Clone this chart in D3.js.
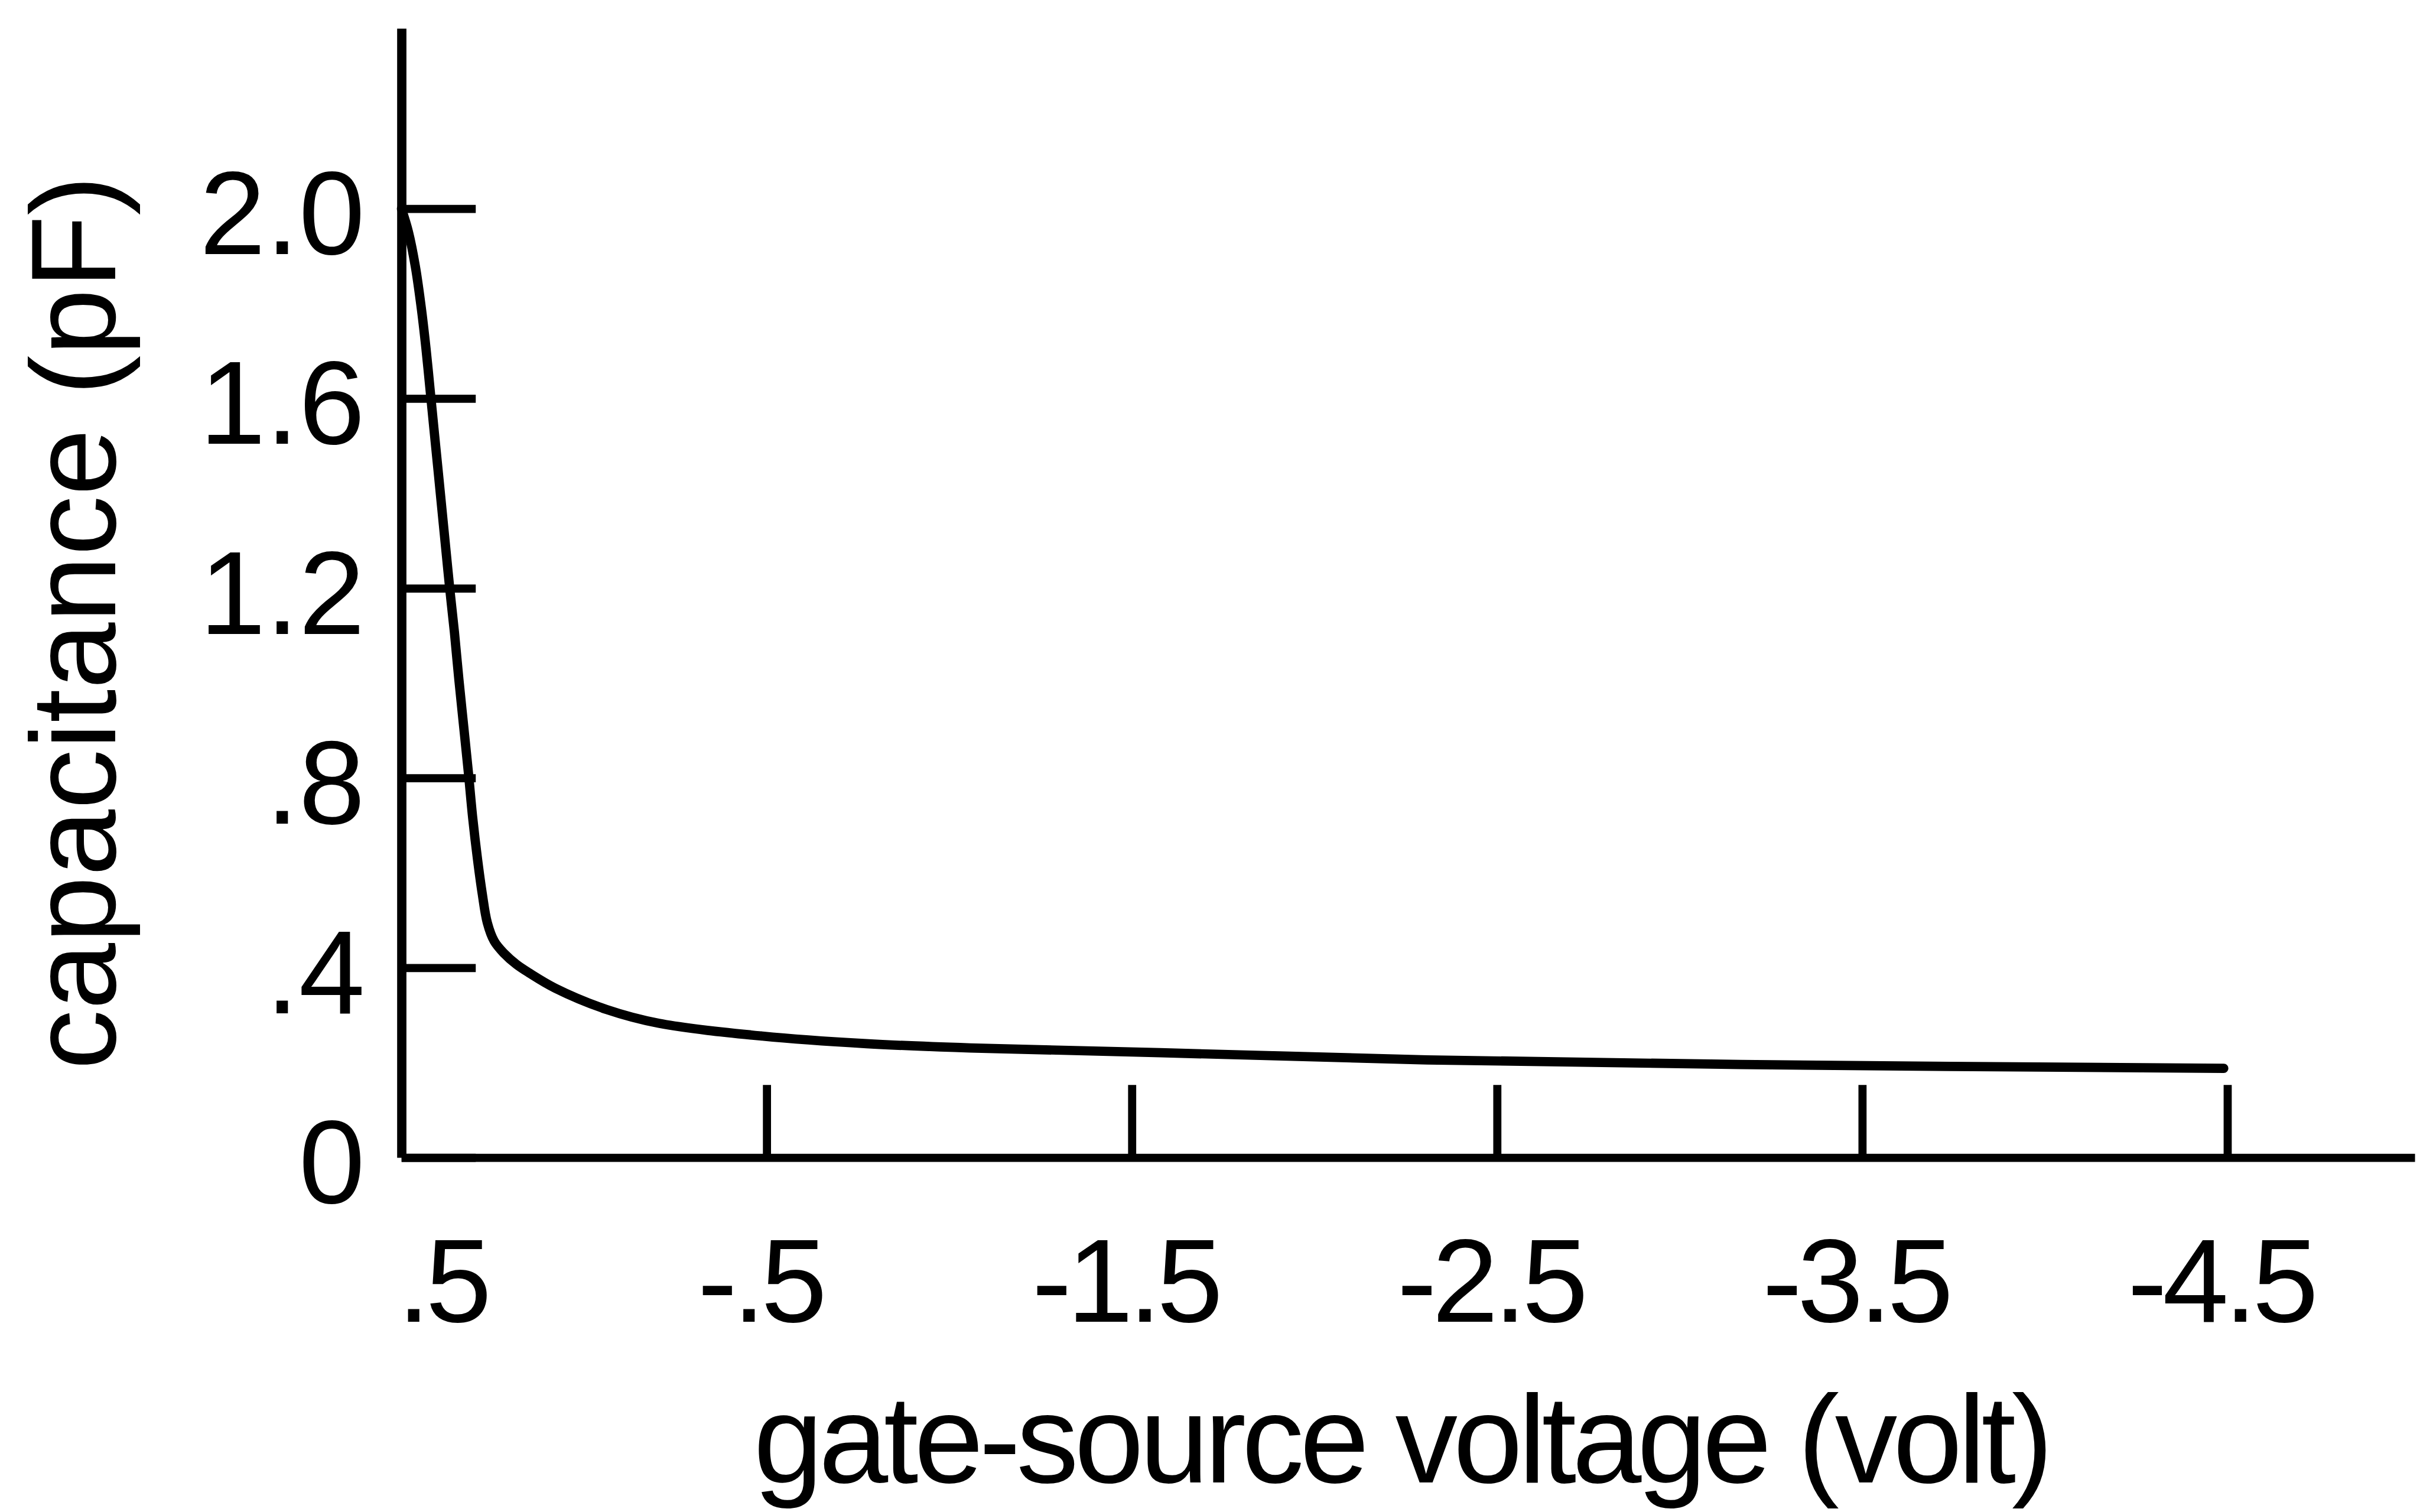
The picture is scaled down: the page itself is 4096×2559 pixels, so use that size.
<!DOCTYPE html>
<html>
<head>
<meta charset="utf-8">
<script src="https://cdn.jsdelivr.net/npm/d3@7"></script>
<style>
  html, body { margin: 0; padding: 0; background: #fff; }
  svg { display: block; }
  text { font-family: "Liberation Sans", Arial, Helvetica, sans-serif; fill: #000; }
</style>
</head>
<body>
<script>
// ---- data ----
const voltage = [0.5, 0.481, 0.462, 0.446, 0.433, 0.422, 0.411, 0.4, 0.389, 0.378, 0.367, 0.355,
                 0.343, 0.33, 0.317, 0.305, 0.292, 0.279, 0.265, 0.246, 0.22, 0.185, 0.15, 0.079,
                 -0.062, -0.205, -0.488, -0.773, -1.057, -1.578, -2.293, -3.167, -4.49];
const capacitance = [2.0, 1.951, 1.878, 1.792, 1.706, 1.621, 1.535, 1.45, 1.364, 1.278, 1.193, 1.107,
                     1.009, 0.911, 0.813, 0.716, 0.63, 0.557, 0.495, 0.456, 0.431, 0.407, 0.389, 0.357,
                     0.312, 0.283, 0.256, 0.24, 0.231, 0.221, 0.206, 0.196, 0.188];
const xTickValues = [0.5, -0.5, -1.5, -2.5, -3.5, -4.5];
const xTickLabels = [".5", "-.5", "-1.5", "-2.5", "-3.5", "-4.5"];
const yTickValues = [0, 0.4, 0.8, 1.2, 1.6, 2.0];
const yTickLabels = ["0", ".4", ".8", "1.2", "1.6", "2.0"];
const xTitle = "gate-source voltage (volt)";
const yTitle = "capacitance (pF)";

// ---- layout (reference pixel units, drawn at 0.982) ----
const S = 0.982;
const W = 4096, H = 2559;

const svg = d3.select("body").append("svg")
  .attr("width", W).attr("height", H)
  .attr("viewBox", `0 0 ${W} ${H}`);
const g = svg.append("g").attr("transform", `scale(${S})`);

const x = d3.scaleLinear().domain([0.5, -5.013]).range([692, 4162]);
const y = d3.scaleLinear().domain([0, 2.38]).range([1995, 49]);

// X axis
const xAxis = d3.axisBottom(x)
  .tickValues(xTickValues)
  .tickFormat((d, i) => xTickLabels[i])
  .tickSizeInner(-125)
  .tickSizeOuter(0)
  .tickPadding(0);
const gx = g.append("g").attr("transform", `translate(0,${y(0)})`).call(xAxis);
gx.select(".domain").attr("stroke", "#000").attr("stroke-width", 14);
gx.selectAll(".tick line").attr("stroke", "#000").attr("stroke-width", 14);
gx.selectAll(".tick text")
  .attr("y", 283).attr("dy", 0)
  .attr("font-size", 205)
  .attr("letter-spacing", -8)
  .attr("font-family", "Liberation Sans, Arial, Helvetica, sans-serif")
  .attr("fill", "#000")
  .attr("text-anchor", (d, i) => i === 0 ? "start" : "middle")
  .attr("dx", (d, i) => i === 0 ? -8 : -12);

// Y axis
const yAxis = d3.axisLeft(y)
  .tickValues(yTickValues)
  .tickFormat((d, i) => yTickLabels[i])
  .tickSizeInner(-128)
  .tickSizeOuter(0)
  .tickPadding(63);
const gy = g.append("g").attr("transform", `translate(${x(0.5)},0)`).call(yAxis);
gy.select(".domain").attr("stroke", "#000").attr("stroke-width", 16);
gy.selectAll(".tick line").attr("stroke", "#000").attr("stroke-width", 14);
gy.selectAll(".tick text")
  .attr("dy", "0.38em")
  .attr("font-size", 205)
  .attr("font-family", "Liberation Sans, Arial, Helvetica, sans-serif")
  .attr("fill", "#000");

// Curve
const pts = voltage.map((v, i) => [v, capacitance[i]]);
const line = d3.line()
  .x(d => x(d[0]))
  .y(d => y(d[1]))
  .curve(d3.curveCatmullRom.alpha(0.5));
g.append("path")
  .datum(pts)
  .attr("d", line)
  .attr("fill", "none")
  .attr("stroke", "#000")
  .attr("stroke-width", 16)
  .attr("stroke-linejoin", "round")
  .attr("stroke-linecap", "round");

// Axis titles
g.append("text")
  .attr("x", 1299).attr("y", 2555)
  .attr("font-size", 215)
  .attr("textLength", 2240)
  .attr("lengthAdjust", "spacing")
  .text(xTitle);

g.append("text")
  .attr("transform", "translate(199,1073) rotate(-90)")
  .attr("text-anchor", "middle")
  .attr("font-size", 207)
  .text(yTitle);
</script>
</body>
</html>
